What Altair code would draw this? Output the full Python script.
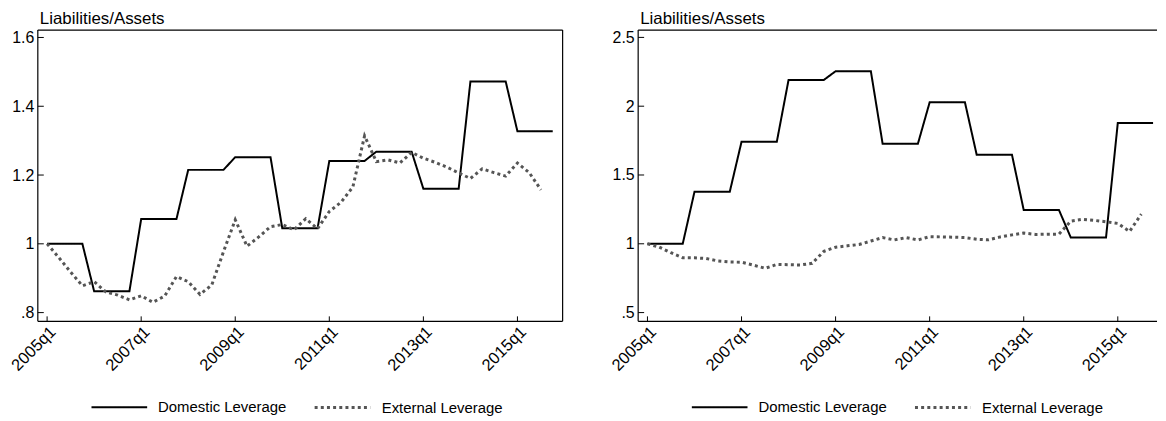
import json
import altair as alt
import pandas as pd

# ---------------- data ----------------
quarters = [f"{y}q{q}" for y in range(2005, 2016) for q in range(1, 5)]  # 2005q1 .. 2015q4
tick_quarters = ["2005q1", "2007q1", "2009q1", "2011q1", "2013q1", "2015q1"]
series_names = ["Domestic Leverage", "External Leverage"]
y_title = "Liabilities/Assets"

left_domestic = [1.000, 1.000, 1.000, 1.000, 0.862, 0.862, 0.862, 0.862,
                 1.072, 1.072, 1.072, 1.072, 1.215, 1.215, 1.215, 1.215,
                 1.252, 1.252, 1.252, 1.252, 1.045, 1.045, 1.045, 1.045,
                 1.241, 1.241, 1.241, 1.241, 1.268, 1.268, 1.268, 1.268,
                 1.160, 1.160, 1.160, 1.160, 1.472, 1.472, 1.472, 1.472,
                 1.327, 1.327, 1.327, 1.327]
left_external = [1.000, 0.960, 0.918, 0.878, 0.890, 0.860, 0.851, 0.837,
                 0.849, 0.830, 0.848, 0.905, 0.890, 0.853, 0.880, 0.977,
                 1.070, 0.993, 1.020, 1.050, 1.056, 1.041, 1.073, 1.044,
                 1.094, 1.121, 1.165, 1.314, 1.239, 1.244, 1.235, 1.266,
                 1.249, 1.237, 1.223, 1.206, 1.190, 1.218, 1.207, 1.197,
                 1.235, 1.207, 1.157]

right_domestic = [1.000, 1.000, 1.000, 1.000, 1.378, 1.378, 1.378, 1.378,
                  1.741, 1.741, 1.741, 1.741, 2.191, 2.191, 2.191, 2.191,
                  2.254, 2.254, 2.254, 2.254, 1.727, 1.727, 1.727, 1.727,
                  2.028, 2.028, 2.028, 2.028, 1.647, 1.647, 1.647, 1.647,
                  1.245, 1.245, 1.245, 1.245, 1.046, 1.046, 1.046, 1.046,
                  1.878, 1.878, 1.878, 1.878]
right_external = [1.000, 0.976, 0.935, 0.898, 0.898, 0.893, 0.875, 0.868,
                  0.866, 0.845, 0.822, 0.850, 0.848, 0.846, 0.858, 0.945,
                  0.975, 0.985, 0.995, 1.020, 1.045, 1.028, 1.045, 1.028,
                  1.052, 1.050, 1.048, 1.045, 1.033, 1.029, 1.050, 1.065,
                  1.078, 1.068, 1.070, 1.070, 1.165, 1.178, 1.170, 1.160,
                  1.148, 1.090, 1.215]

left_yticks = [0.8, 1.0, 1.2, 1.4, 1.6]
right_yticks = [0.5, 1.0, 1.5, 2.0, 2.5]
left_ydomain = [0.7746, 1.6214]
right_ydomain = [0.4364, 2.553]

FONT = "Liberation Sans"
H = 293
W_LEFT = 528
W_RIGHT = 522
PX_PER_Q = 11.83
X_LEFT_DOMAIN = [-0.79, -0.79 + W_LEFT / PX_PER_Q]
X_RIGHT_DOMAIN = [-0.79, -0.79 + W_RIGHT / PX_PER_Q]


def frame(domestic, external):
    rows = []
    for i, v in enumerate(domestic):
        rows.append({"t": i, "quarter": quarters[i], "series": series_names[0], "value": v})
    for i, v in enumerate(external):
        rows.append({"t": i, "quarter": quarters[i], "series": series_names[1], "value": v})
    return pd.DataFrame(rows)


x_label_expr = json.dumps(quarters) + "[datum.value]"
tick_idx = [quarters.index(q) for q in tick_quarters]


def panel(domestic, external, yticks, ydomain, width, xdomain, right_border):
    df = frame(domestic, external)
    x_enc = alt.X("t:Q", scale=alt.Scale(domain=xdomain, nice=False, zero=False),
                  axis=alt.Axis(values=tick_idx, labelExpr=x_label_expr, labelAngle=-45,
                                labelAlign="right", labelBaseline="top", labelPadding=2,
                                labelFontSize=16.5,
                                ticks=False, domain=False, grid=False, title=None))
    y_enc = alt.Y("value:Q", scale=alt.Scale(domain=ydomain, nice=False, zero=False),
                  axis=alt.Axis(values=yticks, format=".2~f",
                                labelExpr="replace(datum.label, '0.', '.')",
                                ticks=False, domain=False, grid=False, title=None,
                                labelPadding=4))
    leg = alt.Legend(orient="none", legendX=53, legendY=350, direction="horizontal",
                     title=None, symbolType="stroke", symbolSize=3136, labelOffset=10,
                     columnPadding=21, padding=0, labelFontSize=15, labelFont=FONT,
                     labelColor="black")
    lines = alt.Chart(df).mark_line(strokeCap="butt", strokeJoin="miter").encode(
        x=x_enc,
        y=y_enc,
        color=alt.Color("series:N", scale=alt.Scale(domain=series_names, range=["#000000", "#555555"]), legend=leg),
        strokeDash=alt.StrokeDash("series:N", scale=alt.Scale(domain=series_names, range=[[1, 0], [3, 3.2]]), legend=leg),
        strokeWidth=alt.StrokeWidth("series:N", scale=alt.Scale(domain=series_names, range=[2, 3]), legend=leg),
        order="t:Q",
    )
    ytick_df = pd.DataFrame({"value": yticks})
    yt = alt.Chart(ytick_df).mark_rule(color="black", strokeWidth=1).encode(
        y=y_enc, x=alt.value(0), x2=alt.value(6))
    xtick_df = pd.DataFrame({"t": tick_idx})
    xt = alt.Chart(xtick_df).mark_rule(color="black", strokeWidth=1).encode(
        x=x_enc, y=alt.value(H - 5), y2=alt.value(H))
    border_df = pd.DataFrame({"edge": ["frame"]})
    top = alt.Chart(border_df).mark_rule(color="black", strokeWidth=1.2).encode(
        x=alt.value(0), x2=alt.value(width), y=alt.value(0))
    bottom = alt.Chart(border_df).mark_rule(color="black", strokeWidth=1.2).encode(
        x=alt.value(0), x2=alt.value(width), y=alt.value(H))
    leftb = alt.Chart(border_df).mark_rule(color="black", strokeWidth=1.2).encode(
        x=alt.value(0), y=alt.value(0), y2=alt.value(H))
    title_df = pd.DataFrame({"label": [y_title]})
    title = alt.Chart(title_df).mark_text(
        align="left", baseline="alphabetic", font=FONT, fontSize=17, color="black"
    ).encode(x=alt.value(2), y=alt.value(-6.5), text="label:N")
    layers = [lines, yt, xt, top, bottom, leftb, title]
    if right_border:
        rightb = alt.Chart(border_df).mark_rule(color="black", strokeWidth=1.2).encode(
            x=alt.value(width), y=alt.value(0), y2=alt.value(H))
        layers.append(rightb)
    return alt.layer(*layers).properties(width=width, height=H)


left = panel(left_domestic, left_external, left_yticks, left_ydomain, W_LEFT, X_LEFT_DOMAIN, True)
right = panel(right_domestic, right_external, right_yticks, right_ydomain, W_RIGHT, X_RIGHT_DOMAIN, False)

chart = alt.hconcat(left, right, spacing=45).resolve_scale(
    x="independent", y="independent", color="independent",
    strokeDash="independent", strokeWidth="independent"
).resolve_legend(
    color="independent", strokeDash="independent", strokeWidth="independent"
).configure_view(
    stroke=None
).configure_axis(
    labelFont=FONT, labelFontSize=16, labelColor="black"
).properties(padding=0, background="white")

chart.save("out.html", embed_options={"renderer": "svg", "actions": False})
